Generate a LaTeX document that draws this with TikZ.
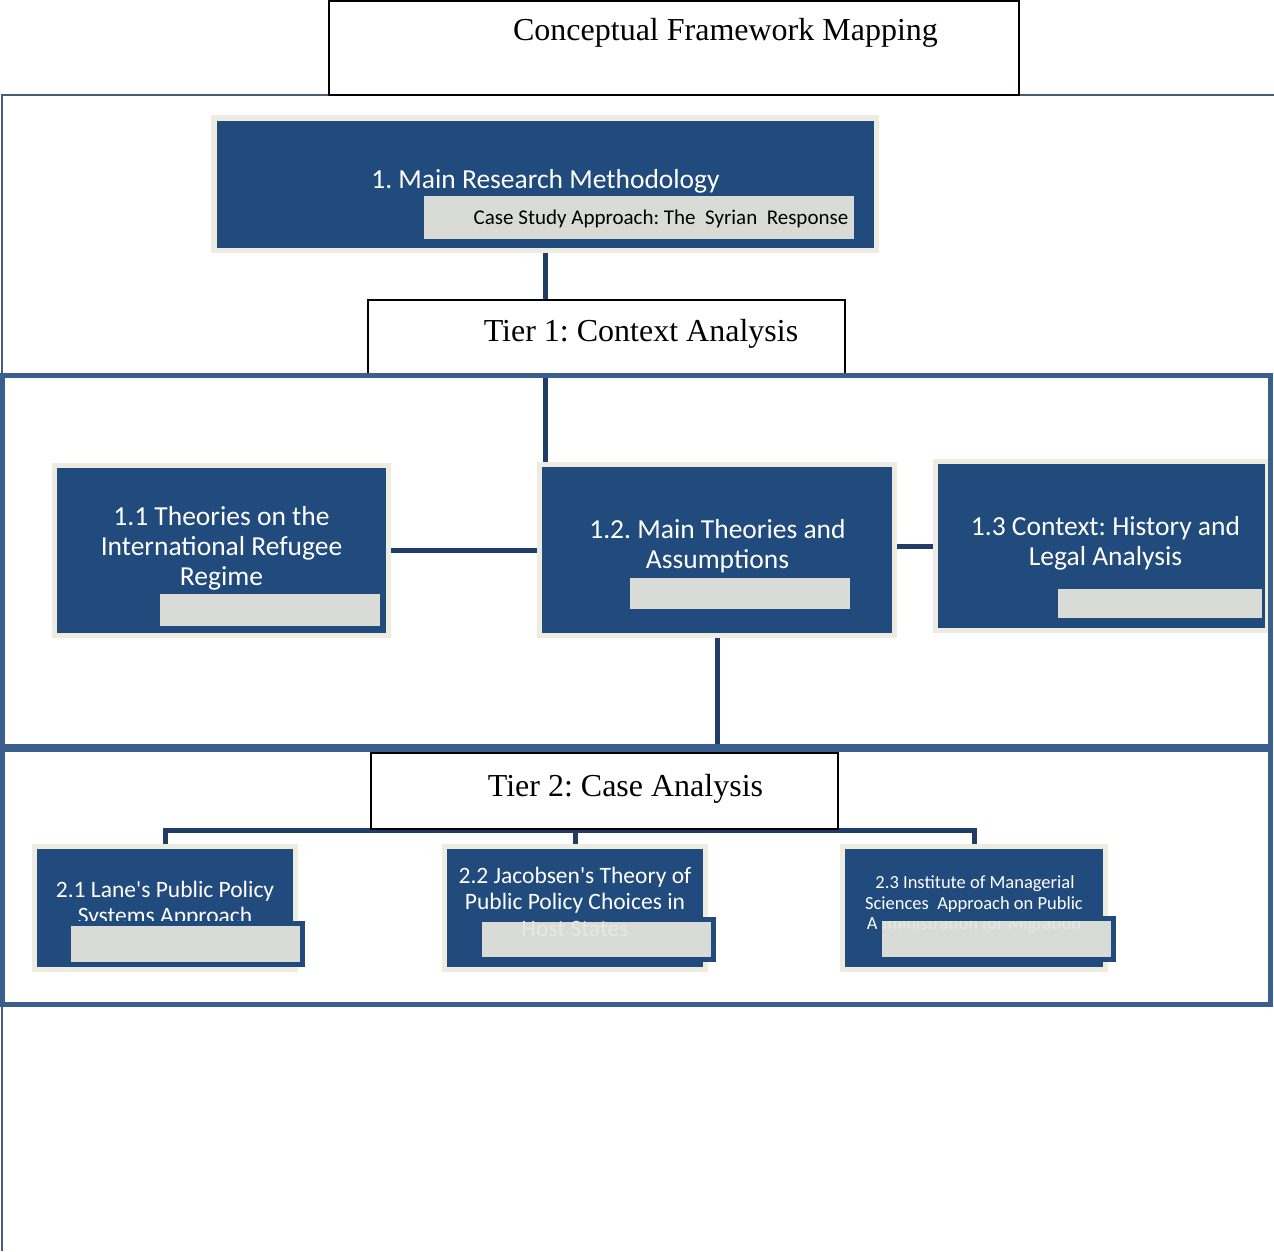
\documentclass[tikz,border=0pt]{standalone}
\usepackage{fontspec}
\setmainfont{Liberation Serif}
\newfontfamily\carlito{Carlito}
\usetikzlibrary{fit,backgrounds}
\definecolor{navy}{HTML}{214A7D}
\definecolor{beige}{HTML}{EEECE1}
\definecolor{greybox}{HTML}{D9DBD6}
\definecolor{fainttxt}{HTML}{E9E8E0}
\definecolor{framec}{HTML}{3A5F8E}
\definecolor{outerc}{HTML}{4A5B78}
\definecolor{connc}{HTML}{1F3D66}
\tikzset{
  conn/.style={draw=connc, line width=5pt},
  bluebox/.style={draw=beige, line width=5.5pt, fill=navy, inner sep=0pt, outer sep=0pt},
  greyrect/.style={fill=greybox, draw=none, inner sep=0pt, outer sep=0pt},
  greyframe/.style={fill=greybox, draw=navy, line width=5pt, inner sep=0pt, outer sep=0pt},
  tierbox/.style={draw=black, line width=1.3pt, fill=white, inner sep=0pt, outer sep=0pt},
  tiertxt/.style={anchor=base, inner sep=0pt, font=\frenchspacing\fontsize{32}{38}\selectfont},
  big/.style={anchor=base, inner sep=0pt, text=white, font=\frenchspacing\carlito\fontsize{27.5}{32}\selectfont},
  mid/.style={anchor=base, inner sep=0pt, text=white, font=\frenchspacing\carlito\fontsize{23.5}{28}\selectfont},
  small/.style={anchor=base, inner sep=0pt, text=white, font=\frenchspacing\carlito\fontsize{18.5}{22}\selectfont},
  sub/.style={anchor=base, inner sep=0pt, text=black, font=\frenchspacing\carlito\fontsize{21}{25}\selectfont},
  framerect/.style={draw=framec, line width=5pt},
}
\begin{document}
\begin{tikzpicture}[x=1pt,y=-1pt]
\useasboundingbox (0,0) rectangle (1274,1251);
% outer thin frame
\draw[outerc, line width=2pt] (1274,95) -- (2,95) -- (2,1251);
% title box
\node[tierbox, fit={(329,1)(1019,95)}] (title) {};
\node[tiertxt] (titletxt) at (725.5,40) {Conceptual Framework Mapping};
% main box 1
\node[bluebox, fit={(214,118)(876.5,250.5)}] (b1) {};
\node[big] (b1txt) at (545.5,188) {1. Main Research Methodology};
\node[greyrect, fit={(424,196)(854,239)}] (b1grey) {};
\node[sub] (b1sub) at (661,224) {Case Study Approach: The\ \ Syrian\ \ Response};
% tier 1 label
\node[tierbox, fit={(368,300)(845,374)}] (t1) {};
\node[tiertxt] (t1txt) at (641,341) {Tier 1: Context Analysis};
% tier frames
\draw[framerect] (2.5,375) rectangle (1270.5,746);
\draw[framerect] (2.5,749) rectangle (1270.5,1004.5);
% tier 1 boxes
\node[bluebox, fit={(54.5,465.5)(388.5,635.5)}] (b11) {};
\node[big] (b11a) at (221.5,525) {1.1 Theories on the};
\node[big] (b11b) at (221.5,555) {International Refugee};
\node[big] (b11c) at (221.5,585) {Regime};
\node[greyrect, fit={(160,594)(380,626)}] (b11grey) {};

\node[bluebox, fit={(539.5,464.5)(894.5,635.5)}] (b12) {};
\node[big] (b12a) at (717.5,538) {1.2. Main Theories and};
\node[big] (b12b) at (717.5,568) {Assumptions};
\node[greyrect, fit={(630,578)(850,609)}] (b12grey) {};

\node[bluebox, fit={(935.5,461.5)(1268,630.5)}] (b13) {};
\node[big] (b13a) at (1105.5,535) {1.3 Context: History and};
\node[big] (b13b) at (1105.5,565) {Legal Analysis};
\node[greyrect, fit={(1058,589)(1262,618)}] (b13grey) {};
\draw[framec, line width=5pt] (1270.5,440) -- (1270.5,650);

% tier 2 label
\node[tierbox, fit={(371,753)(838,829)}] (t2) {};
\node[tiertxt] (t2txt) at (625.5,796) {Tier 2: Case Analysis};

% tier 2 boxes
\node[bluebox, fit={(34.5,846.5)(295.5,969.5)}] (b21) {};
\node[mid] (b21a) at (165,897) {2.1 Lane's Public Policy};
\node[mid] (b21b) at (165,923) {Systems Approach};
\node[greyframe, fit={(68.5,923.5)(302.5,964.5)}] (b21grey) {};

\node[bluebox, fit={(444.5,846.5)(705.5,969.5)}] (b22) {};
\node[mid] (b22a) at (575,883) {2.2 Jacobsen's Theory of};
\node[mid] (b22b) at (575,909) {Public Policy Choices in};
\node[greyframe, fit={(479.5,919.5)(713.5,959.5)}] (b22grey) {};
\node[mid, text=fainttxt] (b22c) at (575,936) {Host States};

\node[bluebox, fit={(842.5,846.5)(1105.5,969.5)}] (b23) {};
\node[small] (b23a) at (975,888) {2.3 Institute of Managerial};
\node[small] (b23b) at (974,909) {Sciences\ \ Approach on Public};
\node[small] (b23c) at (974,929) {Administration for Migration};
\node[greyframe, fit={(879.5,918.5)(1113.5,959.5)}] (b23grey) {};
\begin{scope}
\clip (882,921) rectangle (1111,957);
\node[small, text=fainttxt] (b23cf) at (974,929) {Administration for Migration};
\end{scope}

% connectors
\begin{scope}[on background layer]
\draw[conn] (b1.south) -- (b1.south |- t1.north);
\draw[conn] (b1.south |- t1.south) -- (b1.south |- b12.north);
\draw[conn] (b11.east) -- (b11.east -| b12.west);
\draw[conn] (b13.west -| b12.east) -- (b13.west);
\draw[conn] (b12.south) -- (b12.south |- t2.north);
\coordinate (bus) at (575,830.5);
\draw[conn] (b21.north) |- (bus) -| (b23.north);
\draw[conn] (b22.north) -- (b22.north |- bus);
\end{scope}
\end{tikzpicture}
\end{document}
